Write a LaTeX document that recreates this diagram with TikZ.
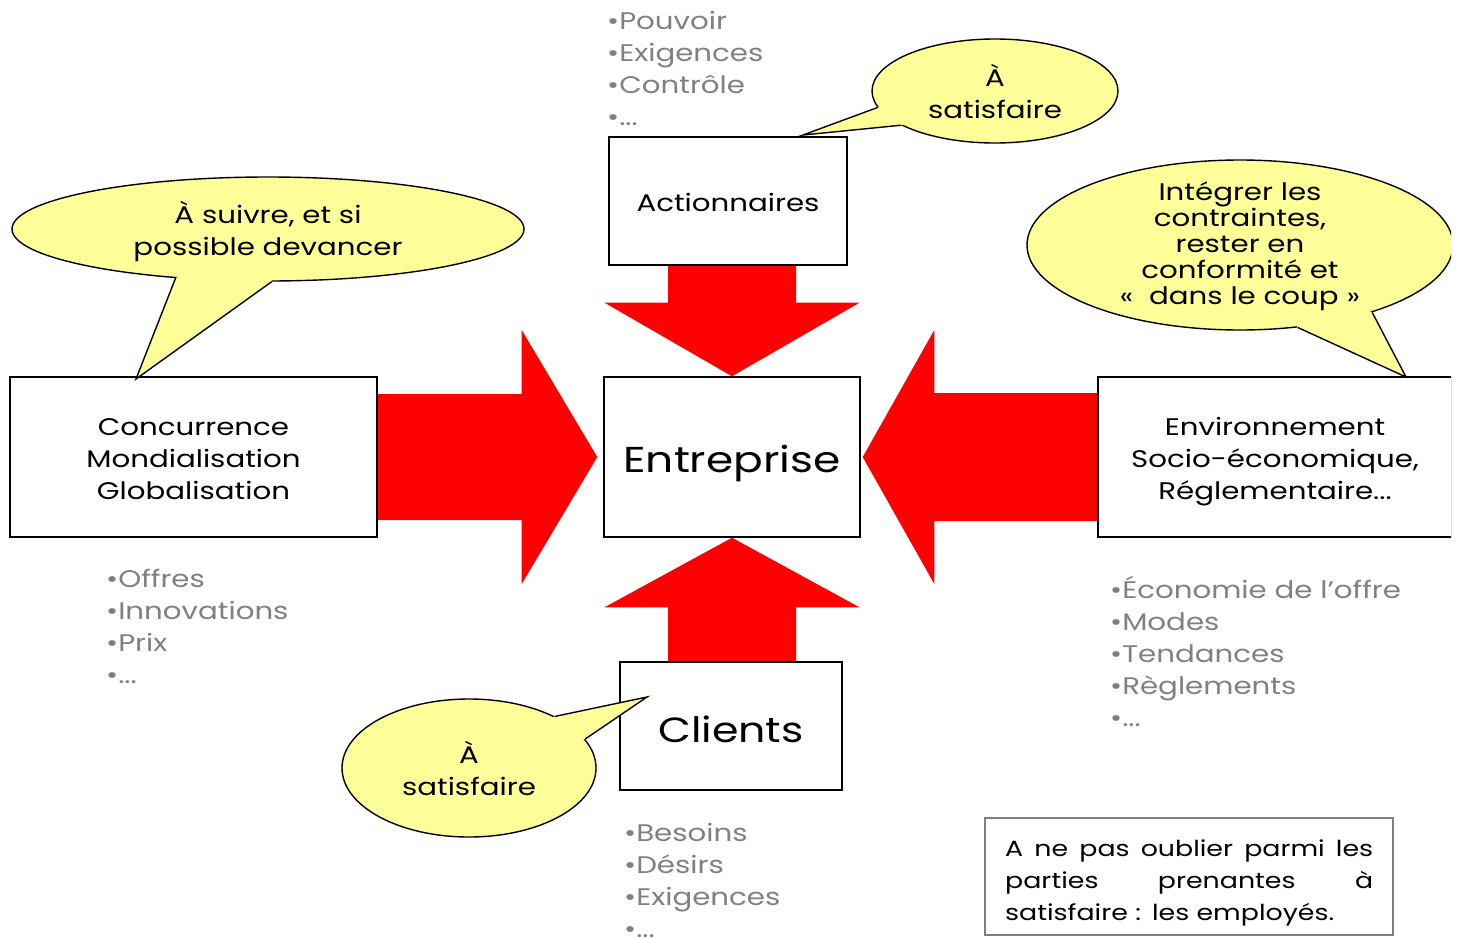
\documentclass[tikz,border=0pt]{standalone}
\usepackage{fontspec}
\setmainfont{Poppins}[FakeStretch=1.22]
\usetikzlibrary{calc,shapes.geometric}
\pgfdeclarelayer{background}
\pgfsetlayers{background,main}
\definecolor{bubble}{HTML}{FFFF99}
\definecolor{graytxt}{HTML}{808080}
\newcommand{\txt}{\fontsize{24}{32}\selectfont}
\newcommand{\bigtxt}{\fontsize{36}{40}\selectfont}
\newcommand{\lowered}[2]{\raisebox{-#1}[\height][\depth]{#2}}
\begin{document}
\begin{tikzpicture}[x=1pt,y=-1pt,
  box/.style={draw=black, line width=1.4pt, fill=white, inner sep=0pt, align=center, font=\txt},
  bubbleshape/.style={ellipse, draw=black, line width=1.4pt, fill=bubble, inner sep=0pt},
  bubbletext/.style={align=center, inner sep=0pt, font=\txt},
  tailline/.style={draw=black, line width=1.4pt, line join=miter},
  listtxt/.style={anchor=base west, align=left, inner sep=0pt, text=graytxt, font=\txt},
  redarrow/.style={fill=red, draw=none}]
\useasboundingbox (0,0) rectangle (1459,937);

% boxes
\node[box, minimum width=238pt, minimum height=128pt] (act) at (728,201) {\lowered{1pt}{Actionnaires}};
\node[box, minimum width=256pt, minimum height=160pt, font=\bigtxt] (ent) at (732,457) {\lowered{6pt}{Entreprise}};
\node[box, minimum width=367pt, minimum height=160pt] (conc) at (193.5,457) {\lowered{2pt}{Concurrence}\\\lowered{2pt}{Mondialisation}\\\lowered{2pt}{Globalisation}};
\node[box, minimum width=222pt, minimum height=128pt, font=\fontsize{35}{40}\selectfont] (cli) at (731,726) {\lowered{3pt}{Clients}};
\begin{scope}
\clip (0,0) rectangle (1451,937);
\node[box, minimum width=354pt, minimum height=160pt] (env) at (1275,457) {\lowered{5pt}{Environnement}\\\lowered{5pt}{Socio-économique,}\\\lowered{5pt}{Réglementaire...}};
\end{scope}

% big arrows
\begin{pgfonlayer}{background}
\coordinate (dS) at (ent.north |- act.south);
\fill[redarrow] ($(dS)+(-64,0)$) -- ($(dS)+(64,0)$) -- ($(dS)+(64,37)$) -- ($(dS)+(127.5,37)$)
  -- (ent.north) -- ($(dS)+(-127.5,37)$) -- ($(dS)+(-64,37)$) -- cycle;
\coordinate (uS) at (ent.south |- cli.north);
\fill[redarrow] ($(uS)+(-64,0)$) -- ($(uS)+(-64,-54)$) -- ($(uS)+(-127.5,-54)$) -- (ent.south)
  -- ($(uS)+(127.5,-54)$) -- ($(uS)+(64,-54)$) -- ($(uS)+(64,0)$) -- cycle;
\coordinate (lT) at ($(ent.west)+(-6,0)$);
\fill[redarrow] ($(conc.east)+(0,-63)$) -- ($(conc.east)+(144,-63)$) -- ($(conc.east)+(144,-127)$)
  -- (lT) -- ($(conc.east)+(144,127)$) -- ($(conc.east)+(144,63)$) -- ($(conc.east)+(0,63)$) -- cycle;
\coordinate (rT) at ($(ent.east)+(2,0)$);
\fill[redarrow] ($(env.west)+(0,-64)$) -- ($(env.west)+(-163,-64)$) -- ($(env.west)+(-163,-127)$)
  -- (rT) -- ($(env.west)+(-163,127)$) -- ($(env.west)+(-163,64)$) -- ($(env.west)+(0,64)$) -- cycle;
\end{pgfonlayer}

% callout top
\node[bubbleshape, minimum width=246pt, minimum height=104pt] (b1) at (995,91) {};
\coordinate (t1) at (803,135);
\fill[bubble] (b1.188) -- (t1) -- (b1.200) -- ($(b1.200)!0.15!(b1.center)$) -- ($(b1.188)!0.15!(b1.center)$) -- cycle;
\draw[tailline] (b1.188) -- (t1) -- (b1.200);
\node[bubbletext] (b1t) at (995,91) {À\\satisfaire};

% callout left
\node[bubbleshape, minimum width=512pt, minimum height=104pt] (b2) at (268,229) {};
\coordinate (t2) at (136,379);
\fill[bubble] (b2.208) -- (t2) -- (b2.274) -- ($(b2.274)!0.15!(b2.center)$) -- ($(b2.208)!0.15!(b2.center)$) -- cycle;
\draw[tailline] (b2.208) -- (t2) -- (b2.274);
\node[bubbletext] (b2t) at (268,231) {À suivre, et si\\possible devancer};

% callout right
\begin{scope}
\clip (0,0) rectangle (1451,937);
\node[bubbleshape, minimum width=426pt, minimum height=170pt] (b3) at (1240,245) {};
\coordinate (t3) at (1406,377);
\fill[bubble] (b3.333) -- (t3) -- (b3.305) -- ($(b3.305)!0.15!(b3.center)$) -- ($(b3.333)!0.15!(b3.center)$) -- cycle;
\draw[tailline] (b3.333) -- (t3) -- (b3.305);
\end{scope}
\node[bubbletext, font=\fontsize{24}{26}\selectfont] (b3t) at (1240,246) {Intégrer les\\contraintes,\\rester en\\conformité et\\«~ dans le coup~»};

% callout bottom
\node[bubbleshape, minimum width=254pt, minimum height=138pt] (b4) at (469,768) {};
\coordinate (t4) at (647,697);
\fill[bubble] (b4.31) -- (t4) -- (b4.14) -- ($(b4.14)!0.15!(b4.center)$) -- ($(b4.31)!0.15!(b4.center)$) -- cycle;
\draw[tailline] (b4.31) -- (t4) -- (b4.14);
\node[bubbletext] (b4t) at (469,768) {À\\satisfaire};

% lists
\node[listtxt] (l1) at (607,125) {•Pouvoir\\•Exigences\\•Contrôle\\•...};
\node[listtxt] (l2) at (106,683) {•Offres\\•Innovations\\•Prix\\•...};
\node[listtxt] (l3) at (1110,726) {•Économie de l’offre\\•Modes\\•Tendances\\•Règlements\\•...};
\node[listtxt] (l4) at (624,937) {•Besoins\\•Désirs\\•Exigences\\•...};

% note
\node[draw=graytxt, line width=1.5pt, minimum width=408pt, minimum height=117pt, inner sep=0pt] (notebox) at (1189,876.5) {};
\node[anchor=base west, inner sep=0pt, text width=368pt, align=left, font=\fontsize{22}{32}\selectfont] (note) at (1005,856)
  {\makebox[368pt][l]{A\hfill ne\hfill pas\hfill oublier\hfill parmi\hfill les}\\\makebox[368pt][l]{parties\hfill prenantes\hfill à}\\satisfaire : les employés.};
\end{tikzpicture}
\end{document}
